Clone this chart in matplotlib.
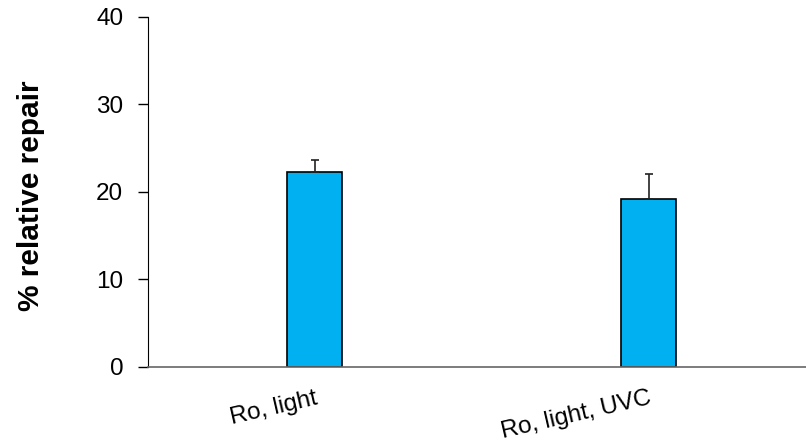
import matplotlib.pyplot as plt

plt.rcParams['font.family'] = ['Liberation Sans', 'DejaVu Sans']

categories = ['Ro, light', 'Ro, light, UVC']
values = [22.2, 19.2]
errors = [1.4, 2.8]
yticks = [0, 10, 20, 30, 40]

fig = plt.figure(figsize=(8.06, 4.45), dpi=100)
# axes runs past the right edge of the figure, like the original
ax = fig.add_axes([147.5 / 806, 1 - 366.7 / 445, 668 / 806, 350 / 445])

x = range(len(categories))
ax.bar(x, values, width=0.167, color='#00b0f0', edgecolor='black', linewidth=1.2,
       yerr=[[0, 0], errors], capsize=3, error_kw=dict(elinewidth=1.2, capthick=1.2, ecolor='#222222'))

ax.set_xlim(-0.5, 1.5)
ax.set_ylim(0, 40)
ax.set_yticks(yticks)
ax.set_xticks(list(x))
ax.set_xticklabels(categories, rotation=13, ha='right', va='top', rotation_mode='anchor', fontsize=17.5)
ax.tick_params(axis='x', length=0, pad=15)
ax.tick_params(axis='y', direction='out', length=7, width=1, pad=10.5, labelsize=17.5)

for s in ['top', 'right']:
    ax.spines[s].set_visible(False)
ax.spines['left'].set_color('black')
ax.spines['bottom'].set_color('#666666')
ax.spines['bottom'].set_linewidth(1.2)

ax.set_ylabel('% relative repair', fontsize=21.5, fontweight='bold')
ax.yaxis.set_label_coords(-0.153, 0.49)

fig.savefig('out.png', dpi=100)
